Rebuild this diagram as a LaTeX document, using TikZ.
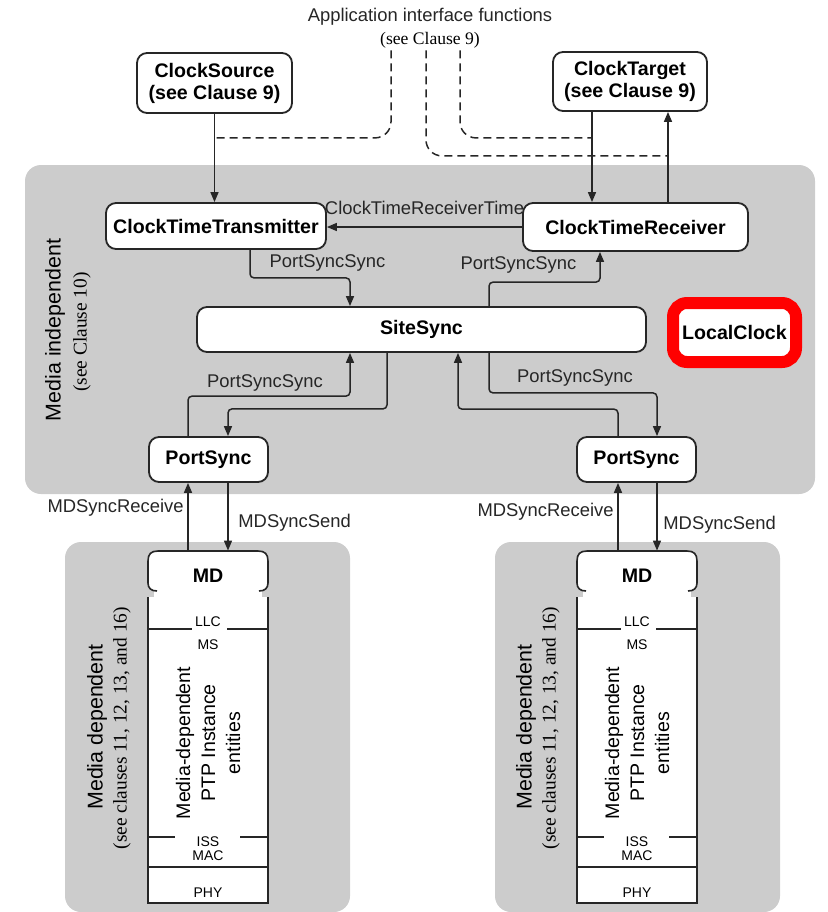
\documentclass[tikz,border=0pt]{standalone}
\usepackage{fontspec}
\setmainfont{Liberation Serif}
\setsansfont{Liberation Sans}
\definecolor{bggray}{HTML}{CCCCCC}
\definecolor{lineclr}{HTML}{262626}
\definecolor{hlred}{HTML}{FF0000}
\usetikzlibrary{arrows.meta}
\newcommand{\boxfont}{\sffamily\bfseries\fontsize{9.8}{11}\selectfont}
\newcommand{\lblfont}{\sffamily\fontsize{9.2}{11}\selectfont}
\newcommand{\sidefont}{\sffamily\fontsize{10.7}{12}\selectfont}
\newcommand{\clausefont}{\rmfamily\fontsize{9.7}{11}\selectfont}
\newcommand{\layerfont}{\sffamily\fontsize{7}{8}\selectfont}
\newcommand{\entfont}{\sffamily\fontsize{9.8}{12.5}\selectfont}
\tikzset{
  bg/.style      = {fill=bggray,rounded corners=8pt},
  box/.style     = {draw=lineclr,line width=0.9pt,fill=white,rounded corners=5pt,
                    align=center,inner sep=0pt,font=\boxfont},
  sig/.style     = {-{Triangle[length=5pt,width=4pt]},line width=0.75pt,
                    draw=lineclr,rounded corners=2pt},
  apiline/.style = {dash pattern=on 4pt off 2.5pt,line width=0.75pt,
                    draw=lineclr,rounded corners=8pt},
  lbl/.style     = {font=\lblfont,text=lineclr,inner sep=1pt},
  stack/.style   = {draw=lineclr,line width=0.8pt},
  layer/.style   = {font=\layerfont,inner sep=0pt},
}

\begin{document}
\begin{tikzpicture}[x=0.5pt,y=-0.5pt]
  \useasboundingbox (0,0) rectangle (828,912);
  % shaded areas
  \fill[bg] (25,165) rectangle (815,494);
  \fill[bg] (65,542) rectangle (350,912);
  \fill[bg] (495,542) rectangle (780,912);
  \node[rotate=90,font=\sidefont] (mi) at (55,330) {Media independent};
  \node[rotate=90,font=\clausefont] (mic) at (82,332) {(see Clause 10)};

  % application interface
  \node[lbl] (api) at (430,17) {Application interface functions};
  \node[font=\rmfamily\fontsize{8.8}{10}\selectfont,inner sep=1pt] (apic) at (430,40)
       {(see Clause 9)};
  \node[box,minimum width=77.5pt,minimum height=30pt] (csrc) at (214.5,83)
       {ClockSource\\(see Clause 9)};
  \node[box,minimum width=77pt,minimum height=29.5pt] (ctgt) at (630,81.5)
       {ClockTarget\\(see Clause 9)};

  % media independent entities
  \node[box,minimum width=110pt,minimum height=23pt] (ctt) at (216,226)
       {ClockTimeTransmitter};
  \node[box,minimum width=112.5pt,minimum height=24pt] (ctr) at (635.5,227)
       {ClockTimeReceiver};
  \node[box,minimum width=224.5pt,minimum height=22.5pt] (ssync) at (421.5,329.5)
       {SiteSync};
  \node[box,draw=hlred,line width=6pt,rounded corners=7pt,minimum width=61.5pt,
        minimum height=29.5pt] (lclk) at (734.5,332.5) {LocalClock};
  \node[box,minimum width=59.5pt,minimum height=22.5pt] (psl) at (208.5,459.5)
       {PortSync};
  \node[box,minimum width=59.5pt,minimum height=22.5pt] (psr) at (636.5,459.5)
       {PortSync};

  % media dependent stacks
  \foreach \x/\s in {148/l,577/r}{
    \fill[white] ({\x+6},586) rectangle ({\x+114},598);
    \draw[stack,fill=white] ({\x+9},591) .. controls ({\x+3},591) and (\x,588) .. (\x,583)
      -- (\x,561) .. controls (\x,554) and ({\x+3},551) .. ({\x+10},551)
      -- ({\x+110},551) .. controls ({\x+117},551) and ({\x+120},554) .. ({\x+120},561)
      -- ({\x+120},583) .. controls ({\x+120},588) and ({\x+117},591) .. ({\x+111},591);
    \draw[stack,fill=white] (\x,597) -- (\x,903) -- ({\x+120},903) -- ({\x+120},597);
    \draw[stack] (\x,629) -- ({\x+44},629) ({\x+79},629) -- ({\x+120},629);
    \draw[stack] (\x,837) -- ({\x+27},837) ({\x+92},837) -- ({\x+120},837);
    \draw[stack] (\x,867) -- ({\x+120},867);
    \node[font=\boxfont,minimum width=60pt,minimum height=25pt,inner sep=0pt]
         (md\s) at ({\x+60},576) {MD};
    \node[layer] (llc\s) at ({\x+60},622) {LLC};
    \node[layer] (ms\s) at ({\x+60},645) {MS};
    \node[rotate=90,font=\entfont,align=center] (ent\s) at ({\x+60},743)
         {Media-dependent\\PTP Instance\\entities};
    \node[layer] (iss\s) at ({\x+60},842) {ISS};
    \node[layer] (mac\s) at ({\x+60},856) {MAC};
    \node[layer] (phy\s) at ({\x+60},893) {PHY};
    \node[rotate=90,font=\sidefont] (mdd\s) at ({\x-51},727) {Media dependent};
    \node[rotate=90,font=\clausefont] (mdc\s) at ({\x-26},728)
         {(see clauses 11, 12, 13, and 16)};
  }

  % dashed interface lines
  \draw[apiline] ([xshift=-19.5pt]apic.south) |- ([yshift=-12pt]csrc.south);
  \draw[apiline] ([xshift=-2pt]apic.south) |- ([xshift=19pt,yshift=-22pt]ctgt.south);
  \draw[apiline] ([xshift=15pt]apic.south) |- ([xshift=-19pt,yshift=-13pt]ctgt.south);

  % clock source / target
  \draw[sig] (csrc.south) -- (csrc.south |- ctt.north);
  \draw[sig] ([xshift=-19pt]ctgt.south) -- ([xshift=-19pt]ctgt.south |- ctr.north);
  \draw[sig] ([xshift=19pt]ctgt.south |- ctr.north) -- ([xshift=19pt]ctgt.south);
  \draw[sig] (ctr.west) -- (ctr.west -| ctt.east)
    node[lbl,midway,above,yshift=5pt] (crt) {ClockTimeReceiverTime};

  % PortSyncSync paths
  \draw[sig] ([xshift=17pt]ctt.south) -- ++(0,28) -| ([xshift=-35.75pt]ssync.north);
  \node[lbl] (pss1) at (327.5,263) {PortSyncSync};
  \draw[sig] ([xshift=33.75pt]ssync.north) -- ++(0,-24) -| ([xshift=-17.75pt]ctr.south);
  \node[lbl] (pss2) at (518.5,265) {PortSyncSync};
  \draw[sig] ([xshift=-10.25pt]psl.north) -- ++(0,-40) -| ([xshift=-35.75pt]ssync.south);
  \node[lbl] (pss3) at (265,383) {PortSyncSync};
  \draw[sig] ([xshift=-17.25pt]ssync.south) -- ++(0,56) -| ([xshift=9.75pt]psl.north);
  \draw[sig] ([xshift=33.75pt]ssync.south) -- ++(0,40) -| ([xshift=10.25pt]psr.north);
  \node[lbl] (pss4) at (575,378) {PortSyncSync};
  \draw[sig] ([xshift=-9.25pt]psr.north) -- ++(0,-27) -| ([xshift=18.25pt]ssync.south);

  % MD <-> PortSync
  \draw[sig] ([xshift=-10pt]mdl.north) -- ([xshift=-10pt]mdl.north |- psl.south);
  \draw[sig] ([xshift=9.75pt]psl.south) -- ([xshift=9.75pt]psl.south |- mdl.north);
  \draw[sig] ([xshift=-9.5pt]mdr.north) -- ([xshift=-9.5pt]mdr.north |- psr.south);
  \draw[sig] ([xshift=10.25pt]psr.south) -- ([xshift=10.25pt]psr.south |- mdr.north);
  \node[lbl,anchor=east] (mdrl) at (186,508) {MDSyncReceive};
  \node[lbl,anchor=west] (mdsl) at (236,523) {MDSyncSend};
  \node[lbl,anchor=east] (mdrr) at (616,512) {MDSyncReceive};
  \node[lbl,anchor=west] (mdsr) at (661,525) {MDSyncSend};
\end{tikzpicture}
\end{document}
